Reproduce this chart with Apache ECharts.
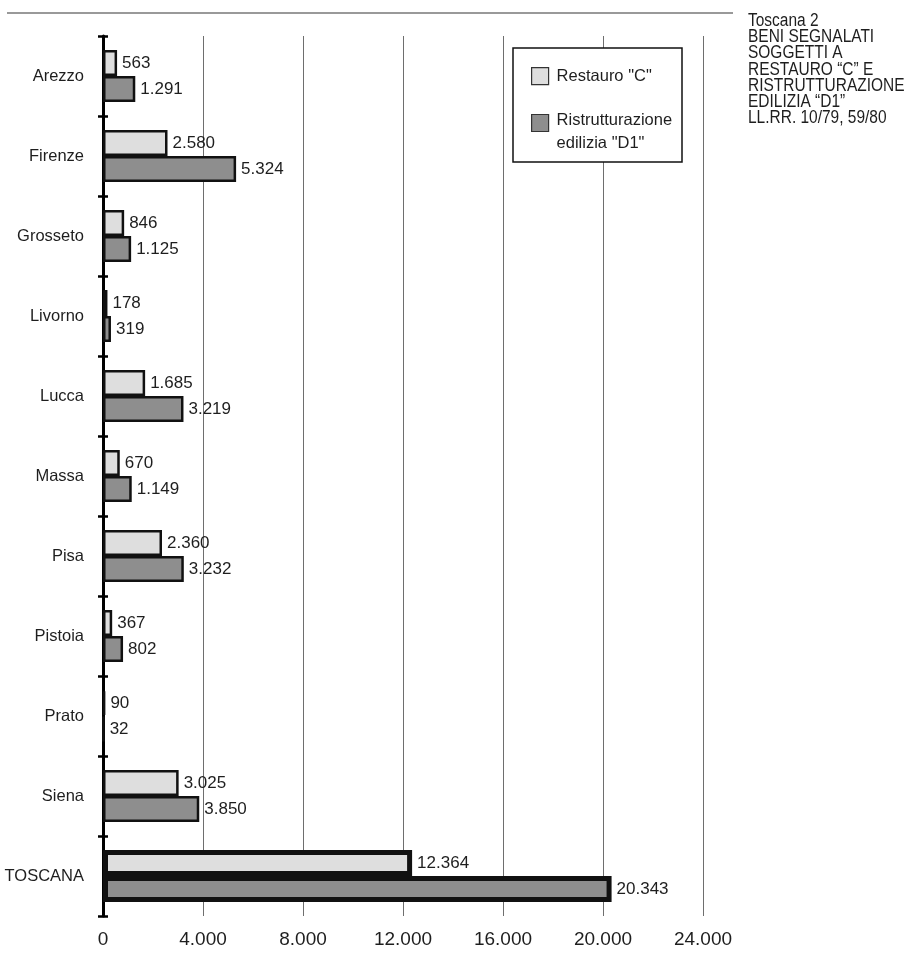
<!DOCTYPE html>
<html>
<head>
<meta charset="utf-8">
<script src="https://cdn.jsdelivr.net/npm/echarts@6/dist/echarts.min.js"></script>
<style>
  html, body { margin: 0; padding: 0; background: #fff; }
  #chart { width: 921px; height: 964px; }
</style>
</head>
<body>
<div id="chart"></div>
<script>
// Province and regional total
const categories = ['Arezzo', 'Firenze', 'Grosseto', 'Livorno', 'Lucca', 'Massa', 'Pisa', 'Pistoia', 'Prato', 'Siena', 'TOSCANA'];
// Beni soggetti a restauro "C"
const restauro = [563, 2580, 846, 178, 1685, 670, 2360, 367, 90, 3025, 12364];
// Beni soggetti a ristrutturazione edilizia "D1"
const ristrutturazione = [1291, 5324, 1125, 319, 3219, 1149, 3232, 802, 32, 3850, 20343];
// Value axis ticks
const xTicks = { min: 0, max: 24000, interval: 4000 };
const seriesNames = ['Restauro "C"', 'Ristrutturazione\nedilizia "D1"'];
const titleLines = ['Toscana 2', 'BENI SEGNALATI', 'SOGGETTI A', 'RESTAURO \u201cC\u201d E', 'RISTRUTTURAZIONE', 'EDILIZIA \u201cD1\u201d', 'LL.RR. 10/79, 59/80'];

const FONT = "'Liberation Sans', Arial, sans-serif";
const TOTAL = 'TOSCANA';

function fmt(v) {
  return String(v).replace(/\B(?=(\d{3})+(?!\d))/g, '.');
}

// Regional total bars carry a heavier outline
function withOutline(values) {
  return values.map((v, i) => categories[i] === TOTAL
    ? { value: v, itemStyle: { borderWidth: 5 } }
    : v);
}

const chart = echarts.init(document.getElementById('chart'), null, { renderer: 'canvas' });

const barLabel = {
  show: true,
  position: 'right',
  distance: 5,
  fontFamily: FONT,
  fontSize: 17,
  color: '#1e1e1e',
  formatter: p => fmt(p.value)
};

const legendBase = {
  orient: 'vertical',
  left: 531,
  padding: 0,
  z: 6,
  selectedMode: false,
  icon: 'rect',
  itemWidth: 17,
  itemHeight: 17,
  itemStyle: { borderColor: '#333', borderWidth: 1.2 }
};

chart.setOption({
  animation: false,
  backgroundColor: '#ffffff',
  grid: { left: 103, right: 218, top: 36, bottom: 48, containLabel: false },
  xAxis: {
    type: 'value',
    min: xTicks.min,
    max: xTicks.max,
    interval: xTicks.interval,
    axisLine: { show: false },
    axisTick: { show: false },
    axisLabel: {
      margin: 14,
      fontFamily: FONT,
      fontSize: 19,
      color: '#1e1e1e',
      formatter: v => fmt(v)
    },
    splitLine: { show: true, lineStyle: { color: '#6e6e6e', width: 1 } }
  },
  yAxis: [
    {
      type: 'category',
      data: categories,
      inverse: true,
      axisLine: { show: true, lineStyle: { color: '#000', width: 3 } },
      axisTick: { show: true, length: 5, lineStyle: { color: '#000', width: 2.5 } },
      axisLabel: {
        margin: 19,
        fontFamily: FONT,
        fontSize: 16.5,
        color: '#1e1e1e'
      },
      splitLine: { show: false }
    },
    {
      // inner half of the category ticks, so they cross the axis line
      type: 'category',
      data: categories,
      inverse: true,
      position: 'left',
      axisLine: { show: false },
      axisTick: { show: true, inside: true, length: 5, lineStyle: { color: '#000', width: 2.5 } },
      axisLabel: { show: false },
      splitLine: { show: false }
    }
  ],
  legend: [
    Object.assign({}, legendBase, {
      data: [seriesNames[0]],
      top: 67,
      textStyle: { fontFamily: FONT, fontSize: 16.5, color: '#1e1e1e', padding: [0, 0, 0, 3] }
    }),
    Object.assign({}, legendBase, {
      data: [seriesNames[1]],
      top: 95,
      // a blank leading row keeps the swatch level with the first text line
      formatter: name => '{gap| }\n' + name.split('\n').map(s => '{t|' + s + '}').join('\n'),
      textStyle: {
        fontFamily: FONT,
        fontSize: 16.5,
        color: '#1e1e1e',
        rich: {
          gap: { fontSize: 10, lineHeight: 17 },
          t: { fontFamily: FONT, fontSize: 16.5, lineHeight: 23, color: '#1e1e1e', padding: [0, 0, 0, 3] }
        }
      }
    })
  ],
  graphic: [
    {
      type: 'line',
      z: 10,
      shape: { x1: 7, y1: 13, x2: 733, y2: 13 },
      style: { stroke: '#777', lineWidth: 1.5 }
    },
    {
      type: 'rect',
      z: 5,
      shape: { x: 513, y: 48, width: 169, height: 114 },
      style: { fill: '#fff', stroke: '#111', lineWidth: 1.5 }
    },
    {
      // condensed heading block at top right
      type: 'text',
      z: 10,
      x: 748,
      y: 13,
      scaleX: 0.86,
      style: {
        text: titleLines.join('\n'),
        x: 0,
        y: 0,
        fontFamily: FONT,
        fontSize: 18,
        lineHeight: 16.2,
        verticalAlign: 'top',
        align: 'left',
        fill: '#1e1e1e'
      }
    }
  ],
  series: [
    {
      name: seriesNames[0],
      type: 'bar',
      barWidth: 26,
      barGap: '0%',
      data: withOutline(restauro),
      itemStyle: { color: '#dedede', borderColor: '#111', borderWidth: 2.5 },
      label: barLabel,
      z: 3
    },
    {
      name: seriesNames[1],
      type: 'bar',
      barWidth: 26,
      barGap: '0%',
      data: withOutline(ristrutturazione),
      itemStyle: { color: '#8e8e8e', borderColor: '#111', borderWidth: 2.5 },
      label: barLabel,
      z: 3
    }
  ]
});
</script>
</body>
</html>
